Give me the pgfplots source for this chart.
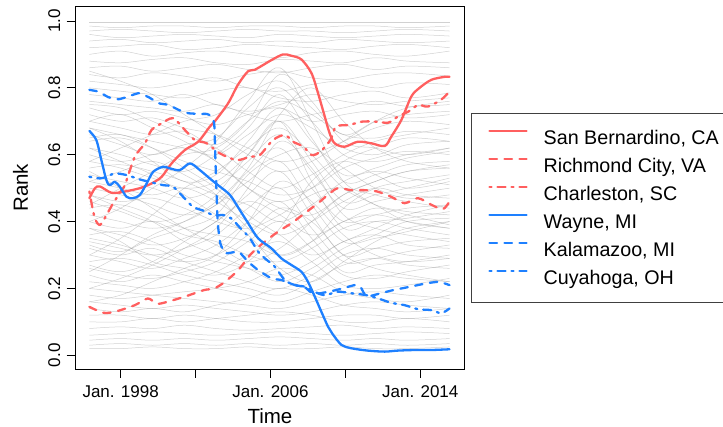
\documentclass[border=0pt]{standalone}
\usepackage{fontspec}
\setmainfont{Liberation Sans}
\usepackage{pgfplots}
\pgfplotsset{compat=1.18}
\definecolor{myred}{RGB}{255,95,95}
\definecolor{myblue}{RGB}{30,128,255}
\pgfplotsset{
  bg/.style={no markers, smooth, tension=0.6, line width=0.5pt, color=black!40, opacity=0.45, forget plot},
  hl/.style={no markers, smooth, tension=0.5, line width=2.3pt, line cap=round, line join=round},
  dsh/.style={dash pattern=on 7.5pt off 7.5pt},
  dsd/.style={dash pattern=on 2pt off 6pt on 8pt off 6pt},
}
\begin{document}
\begin{tikzpicture}
\useasboundingbox (0,0) rectangle (723pt,427pt);
\begin{axis}[
  at={(75.7pt,58pt)}, anchor=south west,
  scale only axis, width=388.6pt, height=362.3pt,
  xmin=1995.6, xmax=2016.35, ymin=-0.041, ymax=1.0428,
  axis line style={line width=0.8pt},
  tick pos=left, tick align=outside,
  major tick length=9pt,
  tick style={line width=0.8pt, black},
  xtick={1998,2002,2006,2010,2014},
  xticklabels={Jan. 1998,,Jan. 2006,,Jan. 2014},
  ytick={0,0.2,0.4,0.6,0.8,1.0},
  yticklabel style={rotate=90, anchor=south, /pgf/number format/.cd, fixed, fixed zerofill, precision=1, assume math mode=true},
  xticklabel shift=4pt, yticklabel shift=3pt,
  ticklabel style={font=\fontsize{17}{17}\selectfont},
  xlabel={Time}, ylabel={Rank},
  label style={font=\fontsize{20.5}{20.5}\selectfont},
  xlabel style={at={(axis description cs:0.5,-0.1495)}, anchor=base, inner sep=0pt},
  ylabel style={at={(axis description cs:-0.142,0.5)}, anchor=center},
  legend style={at={(1.0172,0.707)}, anchor=north west, draw=black!75, line width=0.8pt,
    inner xsep=17pt, inner ysep=15pt, font=\fontsize{19.7}{19.7}\selectfont,
    row sep=9pt, column sep=16pt,
    nodes={inner sep=0pt, text height=16pt, text depth=3pt}},
  legend cell align=left,
  legend image code/.code={\draw[#1] (0pt,7pt) -- (37pt,7pt);},
]
% background series
\addplot[bg] coordinates {(1996.33,.995)(1998,.995)(1999.7,.995)(2001.4,.995)(2003.1,.995)(2004.8,.995)(2006.5,.995)(2008.2,.995)(2009.9,.995)(2011.6,.995)(2013.3,.995)(2015.56,.995)};
\addplot[bg] coordinates {(1996.33,.985)(1998,.98)(1999.7,.985)(2001.4,.985)(2003.1,.98)(2004.8,.985)(2006.5,.985)(2008.2,.98)(2009.9,.985)(2011.6,.985)(2013.3,.98)(2015.56,.985)};
\addplot[bg] coordinates {(1996.33,.97)(1998,.975)(1999.7,.97)(2001.4,.965)(2003.1,.97)(2004.8,.975)(2006.5,.97)(2008.2,.97)(2009.9,.965)(2011.6,.97)(2013.3,.975)(2015.56,.97)};
\addplot[bg] coordinates {(1996.33,.96)(1998,.95)(1999.7,.955)(2001.4,.96)(2003.1,.955)(2004.8,.95)(2006.5,.96)(2008.2,.955)(2009.9,.95)(2011.6,.955)(2013.3,.96)(2015.56,.955)};
\addplot[bg] coordinates {(1996.33,.94)(1998,.945)(1999.7,.935)(2001.4,.94)(2003.1,.945)(2004.8,.935)(2006.5,.94)(2008.2,.935)(2009.9,.945)(2011.6,.94)(2013.3,.935)(2015.56,.94)};
\addplot[bg] coordinates {(1996.33,.92)(1998,.925)(1999.7,.93)(2001.4,.915)(2003.1,.92)(2004.8,.93)(2006.5,.925)(2008.2,.92)(2009.9,.915)(2011.6,.925)(2013.3,.93)(2015.56,.92)};
\addplot[bg] coordinates {(1996.33,.90)(1998,.91)(1999.7,.895)(2001.4,.905)(2003.1,.91)(2004.8,.90)(2006.5,.89)(2008.2,.905)(2009.9,.91)(2011.6,.90)(2013.3,.895)(2015.56,.91)};
\addplot[bg] coordinates {(1996.33,.88)(1998,.875)(1999.7,.885)(2001.4,.89)(2003.1,.875)(2004.8,.87)(2006.5,.885)(2008.2,.88)(2009.9,.875)(2011.6,.89)(2013.3,.88)(2015.56,.875)};
\addplot[bg] coordinates {(1996.33,.86)(1998,.865)(1999.7,.85)(2001.4,.86)(2003.1,.87)(2004.8,.855)(2006.5,.845)(2008.2,.86)(2009.9,.87)(2011.6,.855)(2013.3,.865)(2015.56,.86)};
\addplot[bg] coordinates {(1996.33,.84)(1998,.83)(1999.7,.845)(2001.4,.835)(2003.1,.82)(2004.8,.84)(2006.5,.85)(2008.2,.83)(2009.9,.825)(2011.6,.84)(2013.3,.845)(2015.56,.835)};
\addplot[bg] coordinates {(1996.33,.82)(1998,.81)(1999.7,.80)(2001.4,.815)(2003.1,.83)(2004.8,.80)(2006.5,.79)(2008.2,.81)(2009.9,.82)(2011.6,.80)(2013.3,.815)(2015.56,.81)};
\addplot[bg] coordinates {(1996.33,.80)(1998,.79)(1999.7,.78)(2001.4,.77)(2003.1,.79)(2004.8,.80)(2006.5,.77)(2008.2,.76)(2009.9,.78)(2011.6,.79)(2013.3,.77)(2015.56,.785)};
\addplot[bg] coordinates {(1996.33,.78)(1998,.77)(1999.7,.76)(2001.4,.78)(2003.1,.75)(2004.8,.73)(2006.5,.75)(2008.2,.78)(2009.9,.76)(2011.6,.75)(2013.3,.76)(2015.56,.77)};
\addplot[bg] coordinates {(1996.33,.76)(1998,.75)(1999.7,.74)(2001.4,.73)(2003.1,.75)(2004.8,.72)(2006.5,.70)(2008.2,.72)(2009.9,.74)(2011.6,.76)(2013.3,.745)(2015.56,.75)};
\addplot[bg] coordinates {(1996.33,.74)(1998,.72)(1999.7,.73)(2001.4,.71)(2003.1,.69)(2004.8,.72)(2006.5,.74)(2008.2,.70)(2009.9,.72)(2011.6,.73)(2013.3,.71)(2015.56,.72)};
\addplot[bg] coordinates {(1996.33,.72)(1998,.70)(1999.7,.71)(2001.4,.68)(2003.1,.66)(2004.8,.62)(2006.5,.58)(2008.2,.60)(2009.9,.64)(2011.6,.68)(2013.3,.70)(2015.56,.69)};
\addplot[bg] coordinates {(1996.33,.70)(1998,.68)(1999.7,.66)(2001.4,.67)(2003.1,.63)(2004.8,.70)(2006.5,.76)(2008.2,.72)(2009.9,.66)(2011.6,.65)(2013.3,.67)(2015.56,.66)};
\addplot[bg] coordinates {(1996.33,.68)(1998,.66)(1999.7,.64)(2001.4,.62)(2003.1,.60)(2004.8,.66)(2006.5,.72)(2008.2,.68)(2009.9,.62)(2011.6,.60)(2013.3,.63)(2015.56,.64)};
\addplot[bg] coordinates {(1996.33,.66)(1998,.63)(1999.7,.60)(2001.4,.63)(2003.1,.65)(2004.8,.74)(2006.5,.80)(2008.2,.70)(2009.9,.60)(2011.6,.58)(2013.3,.60)(2015.56,.62)};
\addplot[bg] coordinates {(1996.33,.64)(1998,.65)(1999.7,.62)(2001.4,.58)(2003.1,.55)(2004.8,.52)(2006.5,.48)(2008.2,.50)(2009.9,.56)(2011.6,.59)(2013.3,.61)(2015.56,.60)};
\addplot[bg] coordinates {(1996.33,.62)(1998,.60)(1999.7,.57)(2001.4,.55)(2003.1,.60)(2004.8,.68)(2006.5,.78)(2008.2,.65)(2009.9,.52)(2011.6,.54)(2013.3,.57)(2015.56,.58)};
\addplot[bg] coordinates {(1996.33,.60)(1998,.58)(1999.7,.60)(2001.4,.62)(2003.1,.58)(2004.8,.50)(2006.5,.44)(2008.2,.42)(2009.9,.48)(2011.6,.52)(2013.3,.55)(2015.56,.56)};
\addplot[bg] coordinates {(1996.33,.58)(1998,.56)(1999.7,.53)(2001.4,.50)(2003.1,.52)(2004.8,.60)(2006.5,.70)(2008.2,.58)(2009.9,.46)(2011.6,.48)(2013.3,.50)(2015.56,.53)};
\addplot[bg] coordinates {(1996.33,.56)(1998,.57)(1999.7,.55)(2001.4,.52)(2003.1,.48)(2004.8,.45)(2006.5,.40)(2008.2,.45)(2009.9,.52)(2011.6,.55)(2013.3,.53)(2015.56,.51)};
\addplot[bg] coordinates {(1996.33,.54)(1998,.52)(1999.7,.50)(2001.4,.47)(2003.1,.50)(2004.8,.58)(2006.5,.66)(2008.2,.55)(2009.9,.44)(2011.6,.46)(2013.3,.48)(2015.56,.50)};
\addplot[bg] coordinates {(1996.33,.52)(1998,.50)(1999.7,.48)(2001.4,.50)(2003.1,.46)(2004.8,.40)(2006.5,.36)(2008.2,.40)(2009.9,.46)(2011.6,.50)(2013.3,.48)(2015.56,.47)};
\addplot[bg] coordinates {(1996.33,.50)(1998,.48)(1999.7,.45)(2001.4,.42)(2003.1,.45)(2004.8,.55)(2006.5,.62)(2008.2,.50)(2009.9,.40)(2011.6,.42)(2013.3,.44)(2015.56,.45)};
\addplot[bg] coordinates {(1996.33,.48)(1998,.46)(1999.7,.47)(2001.4,.44)(2003.1,.40)(2004.8,.38)(2006.5,.42)(2008.2,.48)(2009.9,.50)(2011.6,.45)(2013.3,.43)(2015.56,.42)};
\addplot[bg] coordinates {(1996.33,.46)(1998,.43)(1999.7,.40)(2001.4,.42)(2003.1,.48)(2004.8,.60)(2006.5,.70)(2008.2,.52)(2009.9,.38)(2011.6,.40)(2013.3,.41)(2015.56,.43)};
\addplot[bg] coordinates {(1996.33,.44)(1998,.45)(1999.7,.42)(2001.4,.38)(2003.1,.36)(2004.8,.34)(2006.5,.30)(2008.2,.34)(2009.9,.40)(2011.6,.42)(2013.3,.40)(2015.56,.38)};
\addplot[bg] coordinates {(1996.33,.42)(1998,.40)(1999.7,.38)(2001.4,.40)(2003.1,.45)(2004.8,.52)(2006.5,.58)(2008.2,.45)(2009.9,.34)(2011.6,.35)(2013.3,.37)(2015.56,.40)};
\addplot[bg] coordinates {(1996.33,.40)(1998,.38)(1999.7,.40)(2001.4,.36)(2003.1,.34)(2004.8,.30)(2006.5,.28)(2008.2,.32)(2009.9,.38)(2011.6,.40)(2013.3,.38)(2015.56,.36)};
\addplot[bg] coordinates {(1996.33,.38)(1998,.36)(1999.7,.33)(2001.4,.35)(2003.1,.40)(2004.8,.48)(2006.5,.55)(2008.2,.42)(2009.9,.30)(2011.6,.32)(2013.3,.34)(2015.56,.35)};
\addplot[bg] coordinates {(1996.33,.36)(1998,.37)(1999.7,.34)(2001.4,.30)(2003.1,.28)(2004.8,.26)(2006.5,.24)(2008.2,.28)(2009.9,.34)(2011.6,.36)(2013.3,.33)(2015.56,.32)};
\addplot[bg] coordinates {(1996.33,.34)(1998,.32)(1999.7,.30)(2001.4,.32)(2003.1,.36)(2004.8,.44)(2006.5,.50)(2008.2,.38)(2009.9,.28)(2011.6,.29)(2013.3,.31)(2015.56,.33)};
\addplot[bg] coordinates {(1996.33,.32)(1998,.30)(1999.7,.32)(2001.4,.28)(2003.1,.25)(2004.8,.22)(2006.5,.20)(2008.2,.24)(2009.9,.30)(2011.6,.32)(2013.3,.30)(2015.56,.29)};
\addplot[bg] coordinates {(1996.33,.30)(1998,.28)(1999.7,.26)(2001.4,.29)(2003.1,.33)(2004.8,.40)(2006.5,.46)(2008.2,.35)(2009.9,.25)(2011.6,.27)(2013.3,.28)(2015.56,.30)};
\addplot[bg] coordinates {(1996.33,.28)(1998,.29)(1999.7,.27)(2001.4,.24)(2003.1,.22)(2004.8,.20)(2006.5,.18)(2008.2,.22)(2009.9,.27)(2011.6,.29)(2013.3,.27)(2015.56,.26)};
\addplot[bg] coordinates {(1996.33,.26)(1998,.24)(1999.7,.23)(2001.4,.25)(2003.1,.28)(2004.8,.34)(2006.5,.40)(2008.2,.32)(2009.9,.24)(2011.6,.23)(2013.3,.25)(2015.56,.27)};
\addplot[bg] coordinates {(1996.33,.24)(1998,.22)(1999.7,.24)(2001.4,.22)(2003.1,.20)(2004.8,.18)(2006.5,.16)(2008.2,.19)(2009.9,.22)(2011.6,.24)(2013.3,.23)(2015.56,.22)};
\addplot[bg] coordinates {(1996.33,.22)(1998,.21)(1999.7,.20)(2001.4,.22)(2003.1,.25)(2004.8,.30)(2006.5,.34)(2008.2,.28)(2009.9,.21)(2011.6,.20)(2013.3,.21)(2015.56,.23)};
\addplot[bg] coordinates {(1996.33,.20)(1998,.19)(1999.7,.18)(2001.4,.17)(2003.1,.16)(2004.8,.15)(2006.5,.14)(2008.2,.16)(2009.9,.18)(2011.6,.19)(2013.3,.18)(2015.56,.17)};
\addplot[bg] coordinates {(1996.33,.18)(1998,.17)(1999.7,.18)(2001.4,.19)(2003.1,.20)(2004.8,.22)(2006.5,.26)(2008.2,.24)(2009.9,.19)(2011.6,.17)(2013.3,.16)(2015.56,.18)};
\addplot[bg] coordinates {(1996.33,.16)(1998,.15)(1999.7,.14)(2001.4,.15)(2003.1,.14)(2004.8,.13)(2006.5,.12)(2008.2,.13)(2009.9,.15)(2011.6,.16)(2013.3,.15)(2015.56,.14)};
\addplot[bg] coordinates {(1996.33,.14)(1998,.13)(1999.7,.14)(2001.4,.13)(2003.1,.15)(2004.8,.17)(2006.5,.20)(2008.2,.18)(2009.9,.15)(2011.6,.14)(2013.3,.13)(2015.56,.14)};
\addplot[bg] coordinates {(1996.33,.12)(1998,.12)(1999.7,.11)(2001.4,.12)(2003.1,.11)(2004.8,.10)(2006.5,.10)(2008.2,.11)(2009.9,.12)(2011.6,.12)(2013.3,.11)(2015.56,.12)};
\addplot[bg] coordinates {(1996.33,.10)(1998,.10)(1999.7,.11)(2001.4,.10)(2003.1,.11)(2004.8,.12)(2006.5,.13)(2008.2,.12)(2009.9,.10)(2011.6,.10)(2013.3,.11)(2015.56,.10)};
\addplot[bg] coordinates {(1996.33,.08)(1998,.085)(1999.7,.08)(2001.4,.09)(2003.1,.08)(2004.8,.075)(2006.5,.08)(2008.2,.085)(2009.9,.09)(2011.6,.08)(2013.3,.085)(2015.56,.08)};
\addplot[bg] coordinates {(1996.33,.06)(1998,.065)(1999.7,.07)(2001.4,.065)(2003.1,.06)(2004.8,.065)(2006.5,.07)(2008.2,.065)(2009.9,.06)(2011.6,.065)(2013.3,.07)(2015.56,.065)};
\addplot[bg] coordinates {(1996.33,.045)(1998,.05)(1999.7,.045)(2001.4,.05)(2003.1,.045)(2004.8,.05)(2006.5,.055)(2008.2,.05)(2009.9,.045)(2011.6,.05)(2013.3,.045)(2015.56,.05)};
\addplot[bg] coordinates {(1996.33,.03)(1998,.035)(1999.7,.03)(2001.4,.035)(2003.1,.03)(2004.8,.035)(2006.5,.03)(2008.2,.035)(2009.9,.03)(2011.6,.035)(2013.3,.03)(2015.56,.035)};
\addplot[bg] coordinates {(1996.33,.02)(1998,.02)(1999.7,.025)(2001.4,.02)(2003.1,.02)(2004.8,.025)(2006.5,.02)(2008.2,.02)(2009.9,.025)(2011.6,.02)(2013.3,.02)(2015.56,.025)};
\addplot[bg] coordinates {(1996.33,.30)(1998,.35)(1999.7,.42)(2001.4,.50)(2003.1,.55)(2004.8,.62)(2006.5,.68)(2008.2,.60)(2009.9,.50)(2011.6,.45)(2013.3,.40)(2015.56,.38)};
\addplot[bg] coordinates {(1996.33,.55)(1998,.50)(1999.7,.44)(2001.4,.38)(2003.1,.33)(2004.8,.28)(2006.5,.32)(2008.2,.40)(2009.9,.48)(2011.6,.52)(2013.3,.55)(2015.56,.57)};
\addplot[bg] coordinates {(1996.33,.85)(1998,.82)(1999.7,.78)(2001.4,.72)(2003.1,.66)(2004.8,.60)(2006.5,.55)(2008.2,.58)(2009.9,.64)(2011.6,.70)(2013.3,.74)(2015.56,.76)};
\addplot[bg] coordinates {(1996.33,.25)(1998,.30)(1999.7,.36)(2001.4,.40)(2003.1,.46)(2004.8,.56)(2006.5,.72)(2008.2,.80)(2009.9,.70)(2011.6,.62)(2013.3,.58)(2015.56,.56)};
\addplot[bg] coordinates {(1996.33,.65)(1998,.66)(1999.7,.62)(2001.4,.56)(2003.1,.50)(2004.8,.42)(2006.5,.36)(2008.2,.30)(2009.9,.34)(2011.6,.38)(2013.3,.42)(2015.56,.45)};
\addplot[bg] coordinates {(1996.33,.45)(1998,.50)(1999.7,.55)(2001.4,.60)(2003.1,.62)(2004.8,.70)(2006.5,.84)(2008.2,.76)(2009.9,.64)(2011.6,.62)(2013.3,.60)(2015.56,.62)};
\addplot[bg] coordinates {(1996.33,.35)(1998,.33)(1999.7,.30)(2001.4,.28)(2003.1,.30)(2004.8,.36)(2006.5,.44)(2008.2,.40)(2009.9,.30)(2011.6,.26)(2013.3,.24)(2015.56,.22)};
\addplot[bg] coordinates {(1996.33,.75)(1998,.74)(1999.7,.70)(2001.4,.66)(2003.1,.62)(2004.8,.55)(2006.5,.50)(2008.2,.54)(2009.9,.60)(2011.6,.64)(2013.3,.66)(2015.56,.68)};
\addplot[bg] coordinates {(1996.33,.40)(1998,.44)(1999.7,.50)(2001.4,.56)(2003.1,.64)(2004.8,.76)(2006.5,.86)(2008.2,.70)(2009.9,.52)(2011.6,.48)(2013.3,.46)(2015.56,.44)};
\addplot[bg] coordinates {(1996.33,.62)(1998,.58)(1999.7,.54)(2001.4,.48)(2003.1,.42)(2004.8,.36)(2006.5,.26)(2008.2,.22)(2009.9,.28)(2011.6,.34)(2013.3,.38)(2015.56,.40)};
\addplot[bg] coordinates {(1996.33,.20)(1998,.23)(1999.7,.27)(2001.4,.32)(2003.1,.38)(2004.8,.50)(2006.5,.64)(2008.2,.56)(2009.9,.42)(2011.6,.38)(2013.3,.36)(2015.56,.34)};
\addplot[bg] coordinates {(1996.33,.52)(1998,.55)(1999.7,.58)(2001.4,.54)(2003.1,.48)(2004.8,.38)(2006.5,.30)(2008.2,.34)(2009.9,.44)(2011.6,.50)(2013.3,.52)(2015.56,.54)};
\addplot[bg] coordinates {(1996.33,.33)(1998,.31)(1999.7,.35)(2001.4,.38)(2003.1,.42)(2004.8,.54)(2006.5,.60)(2008.2,.62)(2009.9,.56)(2011.6,.50)(2013.3,.47)(2015.56,.48)};
\addplot[bg] coordinates {(1996.33,.70)(1998,.72)(1999.7,.68)(2001.4,.64)(2003.1,.58)(2004.8,.50)(2006.5,.46)(2008.2,.50)(2009.9,.58)(2011.6,.62)(2013.3,.65)(2015.56,.64)};
\addplot[bg] coordinates {(1996.33,.16)(1998,.18)(1999.7,.22)(2001.4,.26)(2003.1,.30)(2004.8,.40)(2006.5,.52)(2008.2,.46)(2009.9,.36)(2011.6,.30)(2013.3,.28)(2015.56,.29)};
\addplot[bg] coordinates {(1996.33,.48)(1998,.44)(1999.7,.40)(2001.4,.34)(2003.1,.30)(2004.8,.26)(2006.5,.22)(2008.2,.26)(2009.9,.32)(2011.6,.36)(2013.3,.40)(2015.56,.41)};
\addplot[bg] coordinates {(1996.33,.58)(1998,.62)(1999.7,.66)(2001.4,.70)(2003.1,.72)(2004.8,.78)(2006.5,.82)(2008.2,.74)(2009.9,.66)(2011.6,.70)(2013.3,.72)(2015.56,.73)};
\addplot[bg] coordinates {(1996.33,.38)(1998,.34)(1999.7,.28)(2001.4,.26)(2003.1,.24)(2004.8,.28)(2006.5,.38)(2008.2,.52)(2009.9,.58)(2011.6,.54)(2013.3,.50)(2015.56,.52)};
\addplot[bg] coordinates {(1996.33,.27)(1998,.25)(1999.7,.28)(2001.4,.34)(2003.1,.40)(2004.8,.46)(2006.5,.42)(2008.2,.36)(2009.9,.40)(2011.6,.44)(2013.3,.42)(2015.56,.39)};
\addplot[bg] coordinates {(1996.33,.68)(1998,.64)(1999.7,.58)(2001.4,.52)(2003.1,.54)(2004.8,.64)(2006.5,.74)(2008.2,.64)(2009.9,.54)(2011.6,.56)(2013.3,.59)(2015.56,.61)};
% highlighted series
\addplot[hl, myred] coordinates {(1996.33,0.47)(1996.63,0.50)(1996.9,0.505)(1997.52,0.486)(1998.23,0.49)(1999.03,0.50)(1999.65,0.514)(2000.19,0.534)(2000.72,0.574)(2001.43,0.614)(2002.14,0.639)(2002.76,0.684)(2003.03,0.70)(2003.74,0.754)(2004.27,0.81)(2004.81,0.85)(2005.16,0.854)(2006.05,0.883)(2006.67,0.90)(2007.12,0.896)(2007.65,0.885)(2008.19,0.844)(2008.54,0.784)(2008.9,0.714)(2009.16,0.664)(2009.43,0.634)(2009.96,0.624)(2010.67,0.639)(2011.39,0.634)(2012.1,0.626)(2012.45,0.654)(2012.99,0.704)(2013.52,0.774)(2013.96,0.80)(2014.59,0.824)(2015.3,0.833)(2015.56,0.833)};
\addlegendentry{San Bernardino, CA}
\addplot[hl, dsh, myred] coordinates {(1996.33,0.145)(1997.1,0.127)(1997.8,0.132)(1998.76,0.15)(1999.45,0.17)(1999.9,0.155)(2000.3,0.157)(2001.4,0.175)(2002.45,0.195)(2003.0,0.20)(2003.57,0.22)(2004.28,0.255)(2004.99,0.305)(2005.7,0.34)(2006.41,0.37)(2007.12,0.395)(2007.83,0.425)(2008.54,0.455)(2009.07,0.48)(2009.6,0.50)(2010.3,0.494)(2011.0,0.494)(2011.7,0.49)(2012.45,0.474)(2013.16,0.455)(2013.87,0.47)(2014.6,0.45)(2015.2,0.437)(2015.56,0.46)};
\addlegendentry{Richmond City, VA}
\addplot[hl, dsd, myred] coordinates {(1996.33,0.49)(1996.5,0.44)(1996.65,0.405)(1996.9,0.39)(1997.2,0.415)(1997.55,0.45)(1998.05,0.494)(1998.23,0.51)(1998.76,0.594)(1999.3,0.634)(1999.65,0.674)(2000.2,0.694)(2000.8,0.709)(2001.43,0.674)(2001.96,0.644)(2002.6,0.634)(2003.3,0.604)(2004.2,0.584)(2004.9,0.594)(2005.43,0.599)(2006.14,0.644)(2006.77,0.659)(2007.2,0.639)(2007.76,0.624)(2008.2,0.599)(2008.66,0.609)(2009.2,0.644)(2009.5,0.684)(2010.2,0.689)(2010.9,0.699)(2011.6,0.699)(2012.3,0.696)(2012.8,0.714)(2013.36,0.729)(2013.9,0.749)(2014.4,0.744)(2015.1,0.764)(2015.56,0.789)};
\addlegendentry{Charleston, SC}
\addplot[hl, myblue] coordinates {(1996.33,0.671)(1996.7,0.644)(1996.97,0.584)(1997.24,0.524)(1997.42,0.509)(1997.69,0.519)(1997.96,0.504)(1998.32,0.474)(1998.67,0.47)(1999.03,0.48)(1999.39,0.514)(1999.74,0.549)(2000.27,0.564)(2000.63,0.559)(2001.16,0.554)(2001.7,0.574)(2002.23,0.554)(2002.76,0.529)(2003.2,0.509)(2003.83,0.48)(2004.3,0.44)(2004.81,0.395)(2005.34,0.35)(2006.05,0.32)(2006.58,0.29)(2007.12,0.27)(2007.65,0.25)(2008.0,0.22)(2008.37,0.175)(2008.72,0.13)(2009.07,0.086)(2009.3,0.065)(2009.79,0.031)(2010.32,0.021)(2011.2,0.014)(2012.1,0.011)(2012.8,0.014)(2013.85,0.016)(2014.7,0.016)(2015.56,0.018)};
\addlegendentry{Wayne, MI}
\addplot[hl, dsh, myblue, tension=0.25] coordinates {(1996.33,0.794)(1996.8,0.789)(1997.35,0.772)(1997.9,0.766)(1998.4,0.774)(1998.95,0.784)(1999.5,0.772)(2000.03,0.754)(2000.56,0.749)(2001.1,0.734)(2001.63,0.724)(2002.25,0.722)(2002.6,0.722)(2002.85,0.715)(2003.0,0.69)(2003.08,0.55)(2003.18,0.40)(2003.32,0.335)(2003.6,0.305)(2004.3,0.31)(2004.8,0.28)(2005.34,0.255)(2006.05,0.23)(2006.6,0.225)(2007.3,0.21)(2007.8,0.205)(2008.2,0.187)(2008.6,0.185)(2009.5,0.195)(2010.5,0.21)(2010.8,0.205)(2011.0,0.185)(2011.15,0.175)(2011.85,0.185)(2012.55,0.195)(2013.45,0.205)(2014.3,0.215)(2015.0,0.22)(2015.56,0.21)};
\addlegendentry{Kalamazoo, MI}
\addplot[hl, dsd, myblue] coordinates {(1996.33,0.534)(1996.9,0.529)(1997.24,0.534)(1997.7,0.544)(1998.32,0.539)(1999.03,0.526)(1999.74,0.516)(2000.27,0.509)(2000.8,0.504)(2001.34,0.474)(2001.87,0.444)(2002.45,0.432)(2003.0,0.418)(2003.44,0.42)(2003.89,0.41)(2004.4,0.38)(2004.9,0.35)(2005.34,0.31)(2005.7,0.29)(2006.23,0.265)(2006.77,0.225)(2007.3,0.21)(2007.83,0.205)(2008.35,0.19)(2008.9,0.18)(2009.6,0.19)(2010.4,0.185)(2011.1,0.18)(2011.75,0.17)(2012.45,0.157)(2013.16,0.15)(2013.87,0.138)(2014.59,0.135)(2015.12,0.126)(2015.56,0.14)};
\addlegendentry{Cuyahoga, OH}
\end{axis}
\end{tikzpicture}
\end{document}
